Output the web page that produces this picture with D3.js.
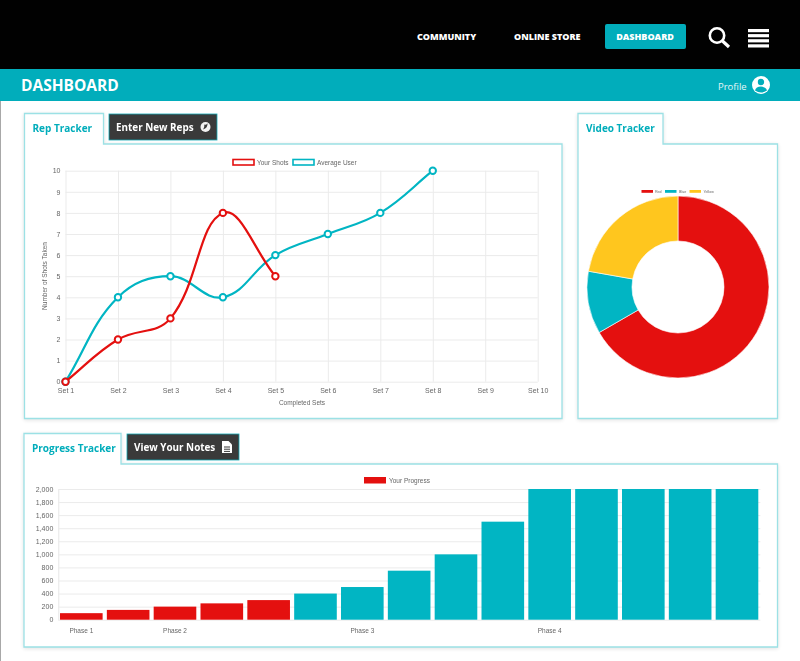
<!DOCTYPE html>
<html>
<head>
<meta charset="utf-8">
<script src="https://cdn.jsdelivr.net/npm/d3@7"></script>
<style>
  html, body { margin: 0; padding: 0; background: #fff; }
  svg { display: block; opacity: 0.999; }
  text { font-family: "Open Sans", sans-serif; }
  .chart-text text, text.chart-text { font-family: "Liberation Sans", sans-serif; fill: #666; }
  .grid .domain { stroke: #e6e6e6; }
  .grid line { stroke: #ebebeb; }
</style>
</head>
<body>
<div id="svg-container"></div>
<script>
////////////////////////////////////////////////////////////////////
////////////////////////////  Data  ////////////////////////////////
const navItems = ["COMMUNITY", "ONLINE STORE"];

const setLabels = ["Set 1", "Set 2", "Set 3", "Set 4", "Set 5", "Set 6", "Set 7", "Set 8", "Set 9", "Set 10"];
const yourShots = [0, 2, 3, 8, 5];
const averageUser = [0, 4, 5, 4, 6, 7, 8, 10];

const donutLabels = ["Red", "Blue", "Yellow"];
const donutValues = [300, 50, 100];

const phaseLabels = ["Phase 1", "", "Phase 2", "", "", "", "Phase 3", "", "", "", "Phase 4", "", "", "", ""];
const yourProgress = [100, 150, 200, 250, 300];
const otherProgress = [400, 500, 750, 1000, 1500, 2000, 2000, 2000, 2000, 2000];

////////////////////////////////////////////////////////////////////
////////////////////////////  Init  ////////////////////////////////
const width = 800, height = 661;
const RED = "#e4100f", TEAL = "#00b5c3", YELLOW = "#ffc61e", BAR_TEAL = "#00adbb", BORDER = "#9ce1e5", DARK = "#3a3a3a";

const svg = d3.select("#svg-container").append("svg").attr("width", width).attr("height", height);

// header
svg.append("rect").attr("width", width).attr("height", 69).attr("fill", "#000");
svg.append("rect").attr("y", 69).attr("width", width).attr("height", 32).attr("fill", BAR_TEAL);
svg.append("rect").attr("y", 101).attr("width", 1).attr("height", height - 101).attr("fill", "#a8a8a8");

svg.selectAll(".nav").data(navItems).enter().append("text")
  .attr("x", (d, i) => [417, 514][i]).attr("y", 39.5)
  .attr("font-size", 9).attr("font-weight", 800).attr("fill", "#fff").text((d) => d);

svg.append("rect").attr("x", 605).attr("y", 24).attr("width", 81).attr("height", 25).attr("rx", 2).attr("fill", BAR_TEAL);
svg.append("text").attr("x", 645).attr("y", 39.5).attr("text-anchor", "middle")
  .attr("font-size", 9).attr("font-weight", 800).attr("fill", "#fff").text("DASHBOARD");

// search icon
svg.append("circle").attr("cx", 717).attr("cy", 35.5).attr("r", 7.2).attr("fill", "none").attr("stroke", "#fff").attr("stroke-width", 2.6);
svg.append("line").attr("x1", 722.5).attr("y1", 41).attr("x2", 729).attr("y2", 47).attr("stroke", "#fff").attr("stroke-width", 3.2);

// menu icon
svg.selectAll(".menu").data(d3.range(4)).enter().append("rect")
  .attr("x", 748).attr("y", (d) => 29 + d * 5.1).attr("width", 21).attr("height", 3.2).attr("fill", "#fff");

svg.append("text").attr("x", 21).attr("y", 91).attr("font-size", 15.5).attr("font-weight", 700).attr("fill", "#fff").text("DASHBOARD");
svg.append("text").attr("x", 718).attr("y", 89.5).attr("font-size", 9.5).attr("fill", "#e6f7f8").text("Profile");

// profile icon
svg.append("circle").attr("cx", 761).attr("cy", 85).attr("r", 9).attr("fill", "#fff");
svg.append("circle").attr("cx", 761).attr("cy", 82).attr("r", 3.2).attr("fill", BAR_TEAL);
svg.append("path").attr("d", "M755,90.5 Q756,86.6 761,86.6 Q766,86.6 767,90.5 Q761,94.5 755,90.5Z").attr("fill", BAR_TEAL);

////////////////////////////////////////////////////////////////////
////////////////////////////  Panels  //////////////////////////////
function panel(x0, x1, tabRight, tabTop, top, bottom, title) {
  svg.append("path")
    .attr("d", `M${x0},${bottom}V${tabTop}H${tabRight}V${top}H${x1}V${bottom}Z`)
    .attr("fill", "#fff")
    .attr("stroke", BORDER)
    .attr("stroke-width", 1.3)
    .style("filter", "drop-shadow(0 1px 2px rgba(0,0,0,0.12))");
  svg.append("text")
    .attr("x", x0 + 8).attr("y", tabTop + 18.5)
    .attr("font-size", 10).attr("font-weight", 700).attr("fill", BAR_TEAL).text(title);
}

function darkButton(x, y, w, label) {
  svg.append("rect").attr("x", x).attr("y", y).attr("width", w).attr("height", 26)
    .attr("fill", DARK).attr("stroke", "#12a9b5").attr("stroke-width", 0.8);
  svg.append("text").attr("x", x + 7).attr("y", y + 17)
    .attr("font-size", 9.9).attr("font-weight", 700).attr("fill", "#fff").text(label);
}

panel(24.5, 562, 103.5, 113.5, 144, 418.5, "Rep Tracker");
panel(578, 777.5, 663, 113.5, 144, 418.5, "Video Tracker");
panel(24, 777.5, 121, 433.5, 464, 647, "Progress Tracker");

darkButton(109, 114, 108, "Enter New Reps");
darkButton(127, 434, 112, "View Your Notes");

// reps icon
svg.append("circle").attr("cx", 205.5).attr("cy", 127).attr("r", 5).attr("fill", "#f2f2f2");
svg.append("path").attr("d", "M207.5,123.3 Q208,128 203,129.5 Q205,126 204,124.5 Q206,125.5 207.5,123.3Z").attr("fill", DARK);

// notes icon
svg.append("path").attr("d", "M222,441H228.5L232,444.5V453H222Z").attr("fill", "#fff");
svg.selectAll(".note-line").data([446.5, 448.7, 450.9]).enter().append("rect")
  .attr("x", 224).attr("y", (d) => d).attr("width", 6).attr("height", 1).attr("fill", DARK);

////////////////////////////////////////////////////////////////////
////////////////////////////  Line chart  //////////////////////////
const xLine = d3.scalePoint().domain(setLabels).range([65.5, 537.7]);
const yLine = d3.scaleLinear().domain([0, 10]).range([381.7, 170.7]);

const lineChart = svg.append("g").attr("class", "chart-text");

lineChart.append("g").attr("class", "grid")
  .attr("transform", "translate(65.5,0)")
  .call(d3.axisLeft(yLine).ticks(10).tickSize(-(537.7 - 65.5)).tickSizeOuter(0).tickPadding(5))
  .call((g) => g.select(".domain").remove())
  .call((g) => g.selectAll("text").attr("font-size", 7).style("font-family", "Liberation Sans"));

lineChart.append("g").attr("class", "grid")
  .attr("transform", "translate(0,381.7)")
  .call(d3.axisBottom(xLine).tickSize(-(381.7 - 170.7)).tickSizeOuter(0).tickPadding(6))
  .call((g) => g.select(".domain").remove())
  .call((g) => g.selectAll("text").attr("font-size", 7).style("font-family", "Liberation Sans"));

lineChart.append("text")
  .attr("transform", "translate(47,276) rotate(-90)")
  .attr("text-anchor", "middle").attr("font-size", 6.5).text("Number of Shots Taken");
lineChart.append("text")
  .attr("x", 302).attr("y", 405)
  .attr("text-anchor", "middle").attr("font-size", 6.5).text("Completed Sets");

// same spline as the original chart (tension 0.4)
function splinePath(points) {
  const t = 0.4;
  const controls = points.map((p, i) => {
    const prev = points[i - 1] || p, next = points[i + 1] || p;
    const d01 = Math.hypot(p[0] - prev[0], p[1] - prev[1]);
    const d12 = Math.hypot(next[0] - p[0], next[1] - p[1]);
    const sum = d01 + d12 || 1;
    const fa = (t * d01) / sum, fb = (t * d12) / sum;
    return {
      before: [p[0] - fa * (next[0] - prev[0]), p[1] - fa * (next[1] - prev[1])],
      after: [p[0] + fb * (next[0] - prev[0]), p[1] + fb * (next[1] - prev[1])],
    };
  });
  const path = d3.path();
  path.moveTo(points[0][0], points[0][1]);
  for (let i = 1; i < points.length; i++) {
    path.bezierCurveTo(
      controls[i - 1].after[0], controls[i - 1].after[1],
      controls[i].before[0], controls[i].before[1],
      points[i][0], points[i][1]
    );
  }
  return path.toString();
}

// average goes first so the red line sits on top
[[averageUser, TEAL], [yourShots, RED]].forEach(([values, color]) => {
  const pts = values.map((v, i) => [xLine(setLabels[i]), yLine(v)]);
  svg.append("path").attr("d", splinePath(pts)).attr("fill", "none").attr("stroke", color).attr("stroke-width", 2.2);
  svg.selectAll(null).data(pts).enter().append("circle")
    .attr("cx", (d) => d[0]).attr("cy", (d) => d[1]).attr("r", 3.2)
    .attr("fill", "#fff").attr("stroke", color).attr("stroke-width", 2);
});

// line legend
[[233, "Your Shots", RED], [293, "Average User", TEAL]].forEach(([x, label, color]) => {
  svg.append("rect").attr("x", x).attr("y", 159.5).attr("width", 21).attr("height", 5.5)
    .attr("fill", "#fff").attr("stroke", color).attr("stroke-width", 1.6);
  svg.append("text").attr("class", "chart-text").attr("x", x + 24).attr("y", 164.5).attr("font-size", 6.5).text(label);
});

////////////////////////////////////////////////////////////////////
////////////////////////////  Donut  ///////////////////////////////
const donutColor = d3.scaleOrdinal().domain(donutLabels).range([RED, TEAL, YELLOW]);
const pie = d3.pie().sort(null);
const arc = d3.arc().innerRadius(46).outerRadius(91);

svg.append("g").attr("transform", "translate(678,287)")
  .selectAll("path").data(pie(donutValues)).enter().append("path")
  .attr("d", arc)
  .attr("fill", (d, i) => donutColor(donutLabels[i]))
  .attr("stroke", "#fff").attr("stroke-width", 0.6);

[[641.5, 655], [665, 679], [689.5, 703.5]].forEach(([boxX, textX], i) => {
  svg.append("rect").attr("x", boxX).attr("y", 190).attr("width", 11.5).attr("height", 2.8).attr("fill", donutColor(donutLabels[i]));
  svg.append("text").attr("class", "chart-text").attr("x", textX).attr("y", 192.8).attr("font-size", 3.6).text(donutLabels[i]);
});

////////////////////////////////////////////////////////////////////
////////////////////////////  Bars  ////////////////////////////////
const barValues = yourProgress.concat(otherProgress);
const xBar = d3.scaleBand().domain(d3.range(barValues.length)).range([57.9, 760.4]).paddingInner(0.09).paddingOuter(0.045);
const yBar = d3.scaleLinear().domain([0, 2000]).range([619.7, 489]);

const barChart = svg.append("g").attr("class", "chart-text");

barChart.append("g").attr("class", "grid")
  .attr("transform", "translate(58.3,0)")
  .call(d3.axisLeft(yBar).ticks(10).tickFormat(d3.format(",")).tickSize(-(760.4 - 58.3)).tickSizeOuter(0).tickPadding(5))
  .call((g) => g.selectAll("text").attr("font-size", 7).style("font-family", "Liberation Sans"));

barChart.append("g").attr("class", "grid")
  .attr("transform", "translate(0,619.7)")
  .call(d3.axisBottom(xBar).tickFormat((i) => phaseLabels[i]).tickSize(0).tickPadding(9))
  .call((g) => g.select(".domain").remove())
  .call((g) => g.selectAll("text").attr("font-size", 6.5).style("font-family", "Liberation Sans"));

svg.selectAll(".bar").data(barValues).enter().append("rect")
  .attr("x", (d, i) => xBar(i))
  .attr("y", (d) => yBar(d))
  .attr("width", xBar.bandwidth())
  .attr("height", (d) => yBar(0) - yBar(d))
  .attr("fill", (d, i) => (i < yourProgress.length ? RED : TEAL));

svg.append("rect").attr("x", 364).attr("y", 477).attr("width", 22).attr("height", 6.5).attr("fill", RED);
svg.append("text").attr("class", "chart-text").attr("x", 389).attr("y", 483).attr("font-size", 6.5).text("Your Progress");
</script>
</body>
</html>
